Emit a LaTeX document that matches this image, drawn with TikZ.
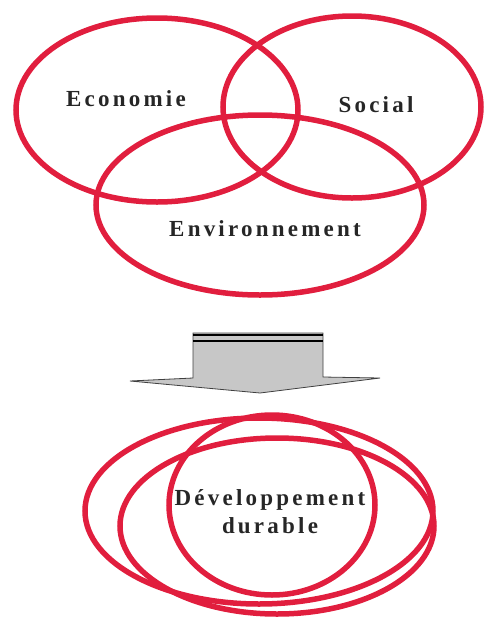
\documentclass[tikz,border=0pt]{standalone}
\usepackage{fontspec}
\newfontfamily\lblfont[LetterSpace=14]{Liberation Serif}
\usepackage{tikz}
\usetikzlibrary{shapes.geometric,positioning}

\definecolor{ringred}{RGB}{225,30,62}

\begin{document}
\begin{tikzpicture}[x=1pt,y=-1pt,
    ring/.style={draw=ringred, line width=5.5pt, ellipse, inner sep=0pt, fill=none},
    lbl/.style={font=\lblfont\bfseries\fontsize{23}{26}\selectfont, text=black!85, anchor=base, align=center}]
        \useasboundingbox (0,0) rectangle (485,622);

        % trois piliers
        \node[ring, minimum width=282pt, minimum height=184pt] (eco) at (157,110) {};
        \node[ring, minimum width=258pt, minimum height=182pt] (soc) at (352,107) {};
        \node[ring, minimum width=328pt, minimum height=180pt] (env) at (260,205) {};
        \node[lbl] (ecolbl) at (126,106) {Economie};
        \node[lbl] (soclbl) at (376,112) {Social};
        \node[lbl] (envlbl) at (265,236) {Environnement};

        % fleche
        \draw[black!75, fill=black!22, line width=0.8pt]
            (193,333) -- (323,333) -- (323,377) -- (380,378) -- (260,393)
            -- (130,381) -- (193,378) -- cycle;
        \draw[black, line width=2pt] (193,334.5) -- (323,334.5);
        \draw[black, line width=2.5pt] (193,341) -- (323,341);

        % developpement durable
        \node[ring, minimum width=348pt, minimum height=186pt] (dda) at (259,511) {};
        \node[ring, minimum width=314pt, minimum height=176pt] (ddb) at (277,526) {};
        \node[ring, minimum width=206pt, minimum height=180pt] (ddc) at (272,505) {};
        \node[lbl] (ddlbl) at (270,505) {D\'eveloppement};
        \node[lbl, below = 28pt of ddlbl.base, anchor=base] (durlbl) {durable};
\end{tikzpicture}
\end{document}
